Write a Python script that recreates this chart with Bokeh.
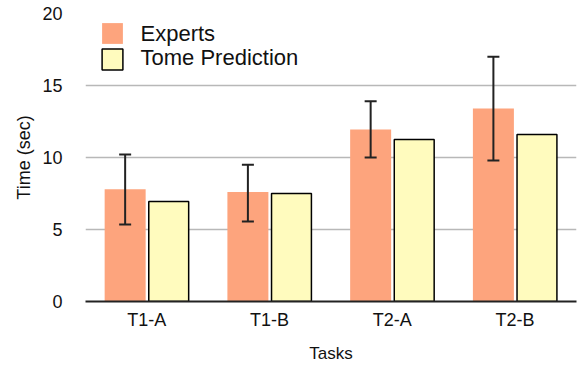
from bokeh.plotting import figure
from bokeh.models import ColumnDataSource, Whisker, TeeHead, Legend, LegendItem, Range1d, FactorRange, Label
from bokeh.transform import dodge
from bokeh.embed import file_html
from bokeh.resources import INLINE

tasks = ["T1-A", "T1-B", "T2-A", "T2-B"]
experts = [7.8, 7.6, 11.95, 13.4]
experts_upper = [10.2, 9.5, 13.9, 17.0]
experts_lower = [5.35, 5.55, 10.0, 9.8]
tome = [6.95, 7.5, 11.25, 11.6]
y_ticks = [0, 5, 10, 15, 20]
series_names = ["Experts", "Tome Prediction"]

FONT = "Liberation Sans"

src = ColumnDataSource(dict(tasks=tasks, experts=experts, upper=experts_upper,
                            lower=experts_lower, tome=tome))

p = figure(width=580, height=365, x_range=FactorRange(*tasks), y_range=Range1d(0, 20),
           output_backend="svg", toolbar_location=None,
           min_border_left=85, min_border_right=4, min_border_top=13, min_border_bottom=64)
p.x_range.range_padding = 0
p.outline_line_color = None
p.background_fill_color = "white"
p.border_fill_color = "white"

r1 = p.vbar(x=dodge("tasks", -0.177, range=p.x_range), top="experts", width=0.334,
            source=src, fill_color="#FDA47D", line_color=None)
r2 = p.vbar(x=dodge("tasks", 0.178, range=p.x_range), top="tome", width=0.325,
            source=src, fill_color="#FFFBBE", line_color="black", line_width=1.5)

w = Whisker(base=dodge("tasks", -0.177, range=p.x_range), upper="upper", lower="lower",
            source=src, line_color="#222222", line_width=2, level="overlay",
            upper_head=TeeHead(size=12, line_color="#222222", line_width=2),
            lower_head=TeeHead(size=12, line_color="#222222", line_width=2))
p.add_layout(w)

p.xgrid.grid_line_color = None
p.ygrid.grid_line_color = "#b8b8b8"
p.ygrid.grid_line_width = 1.5
p.yaxis.ticker = y_ticks

p.yaxis.axis_line_color = None
p.yaxis.major_tick_line_color = None
p.yaxis.minor_tick_line_color = None
p.yaxis.major_tick_out = 0
p.yaxis.major_label_standoff = 23
p.yaxis.axis_label = "Time (sec)"
p.yaxis.axis_label_standoff = 5

p.xaxis.axis_line_color = "#222222"
p.xaxis.axis_line_width = 2
p.xaxis.major_tick_line_color = None
p.xaxis.minor_tick_line_color = None
p.xaxis.major_tick_out = 0
p.xaxis.major_label_standoff = 8
p.xaxis.axis_label = "Tasks"
p.xaxis.axis_label_standoff = 11

for ax in (p.xaxis[0], p.yaxis[0]):
    ax.major_label_text_font = FONT
    ax.major_label_text_font_size = "18px"
    ax.major_label_text_color = "#111111"
    ax.axis_label_text_font = FONT
    ax.axis_label_text_font_style = "normal"
    ax.axis_label_text_color = "#111111"
p.xaxis.axis_label_text_font_size = "17px"
p.yaxis.axis_label_text_font_size = "18px"

# legend swatches (labels drawn separately as text annotations)
legend_style = dict(margin=0, padding=0, spacing=0,
                    glyph_width=26, glyph_height=26, label_standoff=0,
                    label_text_font_size="1px", label_height=1, label_width=1,
                    background_fill_alpha=0, border_line_color=None)
leg1 = Legend(items=[LegendItem(label=" ", renderers=[r1])], location=(14, 255), **legend_style)
leg2 = Legend(items=[LegendItem(label=" ", renderers=[r2])], location=(14, 229), **legend_style)
p.add_layout(leg1)
p.add_layout(leg2)

for name, yb in zip(series_names, (268, 244)):
    p.add_layout(Label(x=55, y=yb, x_units="screen", y_units="screen", text=name,
                       text_font=FONT, text_font_size="22px", text_color="#111111",
                       text_align="left", text_baseline="alphabetic"))

open("out.html", "w").write(file_html(p, INLINE))
